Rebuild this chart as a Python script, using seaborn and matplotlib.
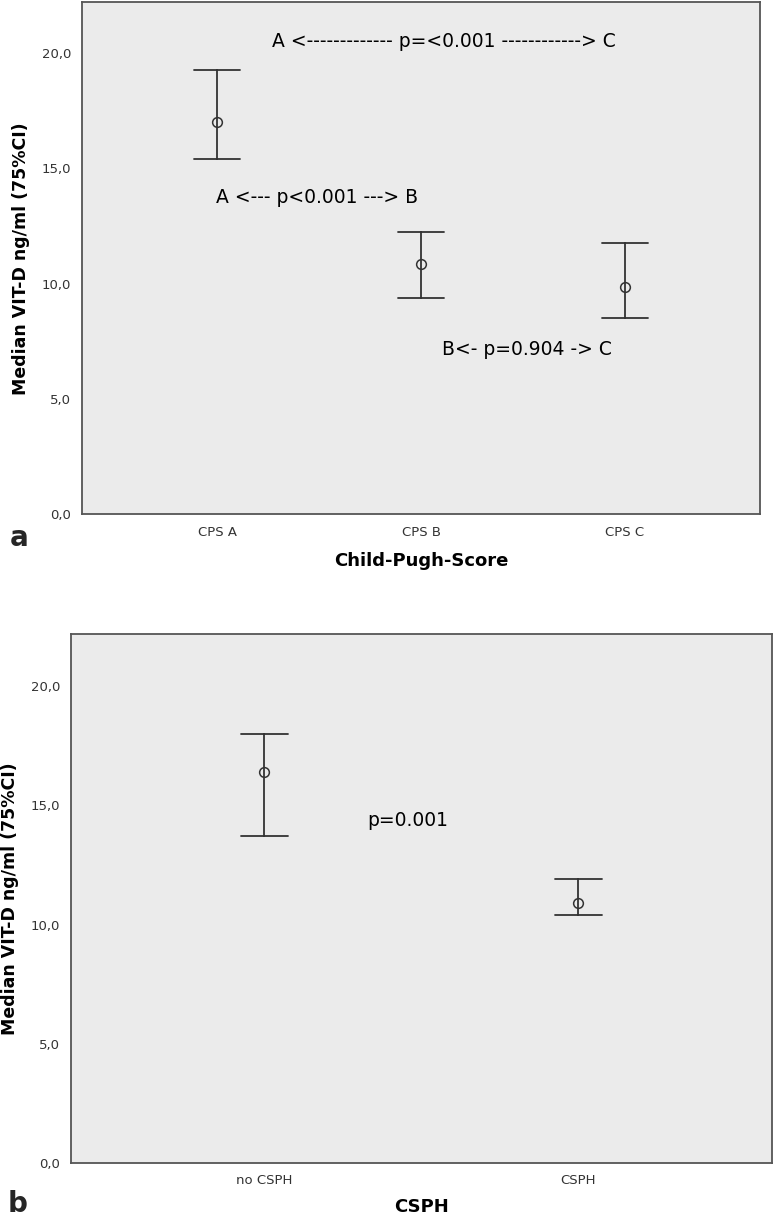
import numpy as np
import pandas as pd
import seaborn as sns
import matplotlib.pyplot as plt

# -----------------------------------------------------------------------------
# Data: median and 75% CI per group
# -----------------------------------------------------------------------------
CPS_GROUPS = ["CPS A", "CPS B", "CPS C"]
CPS_MEDIAN = [17.0, 10.85, 9.85]
CPS_LOW = [15.4, 9.4, 8.5]
CPS_HIGH = [19.25, 12.25, 11.75]

CSPH_GROUPS = ["no CSPH", "CSPH"]
CSPH_MEDIAN = [16.4, 10.9]
CSPH_LOW = [13.7, 10.4]
CSPH_HIGH = [18.0, 11.9]

Y_TICKS = [0, 5, 10, 15, 20]
Y_TICK_LABELS = ["0,0", "5,0", "10,0", "15,0", "20,0"]

BG = "#ebebeb"
INK = "#333333"
SPINE = "#555555"
NOTE_SIZE = 13.5


def tidy(groups, lo, mid, hi):
    """Three rows per group so median = mid and min/max = CI bounds."""
    rows = []
    for g, a, m, b in zip(groups, lo, mid, hi):
        rows += [(g, a), (g, m), (g, b)]
    return pd.DataFrame(rows, columns=["group", "value"])


def draw_panel(ax, df, order, capsize):
    sns.pointplot(
        data=df, x="group", y="value", order=order, ax=ax,
        estimator="median", errorbar=lambda v: (v.min(), v.max()),
        linestyle="none", marker="o", markersize=7,
        markerfacecolor="none", markeredgecolor=INK, markeredgewidth=1.1,
        color=INK, capsize=capsize, err_kws={"linewidth": 1.3},
    )
    ax.set_facecolor(BG)
    ax.set_ylim(0, 22.2)
    ax.set_yticks(Y_TICKS)
    ax.set_yticklabels(Y_TICK_LABELS)
    ax.tick_params(axis="both", direction="out", length=5, width=1.2,
                   color=SPINE, labelcolor=INK, labelsize=9.5, pad=3)
    for lab in ax.get_xticklabels() + ax.get_yticklabels():
        lab.set_family(["Liberation Sans Narrow", "DejaVu Sans"])
    for s in ax.spines.values():
        s.set_visible(True)
        s.set_color(SPINE)
        s.set_linewidth(1.3)
    ax.set_ylabel("Median VIT-D ng/ml (75%CI)", fontsize=12.5,
                  fontweight="bold", color="black", labelpad=8)
    ax.grid(False)


sns.set_style("white")
plt.rcParams["font.family"] = ["DejaVu Sans"]

fig = plt.figure(figsize=(7.74, 12.19), dpi=100)
ax1 = fig.add_axes([0.106, 0.578, 0.876, 0.420])
ax2 = fig.add_axes([0.092, 0.046, 0.905, 0.434])

# --- panel a ---
draw_panel(ax1, tidy(CPS_GROUPS, CPS_LOW, CPS_MEDIAN, CPS_HIGH), CPS_GROUPS, 0.225)
ax1.set_xlim(-0.663, 2.663)
ax1.set_xlabel("Child-Pugh-Score", fontsize=13, fontweight="bold",
               color="black", labelpad=10)
ax1.text(1.11, 20.5, "A <------------- p=<0.001 ------------> C",
         ha="center", va="center", fontsize=NOTE_SIZE, color="black")
ax1.text(0.49, 13.75, "A <--- p<0.001 ---> B",
         ha="center", va="center", fontsize=NOTE_SIZE, color="black")
ax1.text(1.52, 7.15, "B<- p=0.904 -> C",
         ha="center", va="center", fontsize=NOTE_SIZE, color="black")
fig.text(0.012, 0.559, "a", fontsize=20, fontweight="bold", va="center")

# --- panel b ---
draw_panel(ax2, tidy(CSPH_GROUPS, CSPH_LOW, CSPH_MEDIAN, CSPH_HIGH), CSPH_GROUPS, 0.15)
ax2.set_xlim(-0.615, 1.615)
ax2.set_xlabel("CSPH", fontsize=13, fontweight="bold", color="black",
               labelpad=8)
ax2.text(0.455, 14.36, "p=0.001", ha="center", va="center",
         fontsize=NOTE_SIZE, color="black")
fig.text(0.010, 0.012, "b", fontsize=20, fontweight="bold", va="center")

fig.savefig("out.png", dpi=100)
